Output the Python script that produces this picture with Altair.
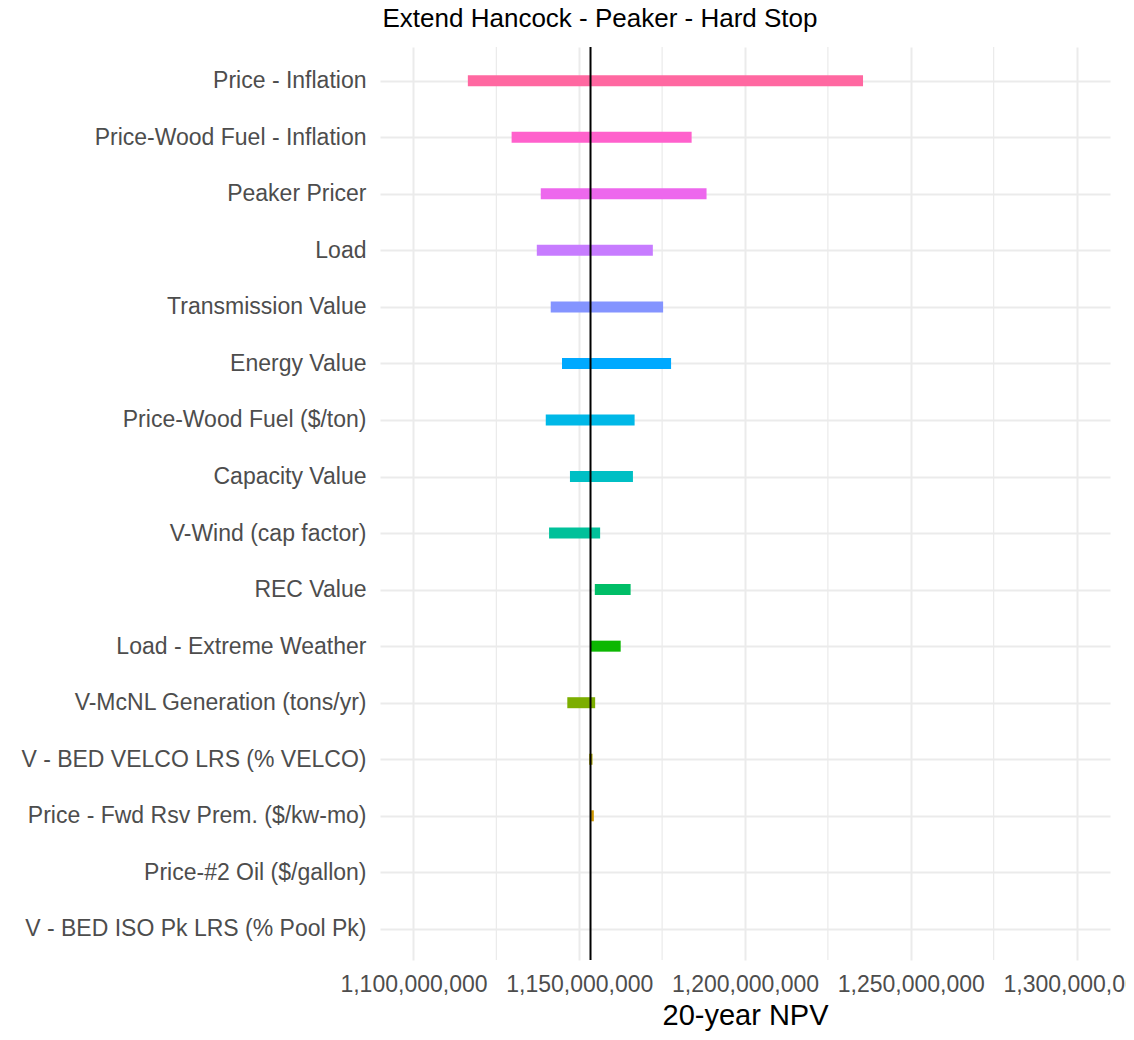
import altair as alt
import pandas as pd

factors = [
    "Price - Inflation",
    "Price-Wood Fuel - Inflation",
    "Peaker Pricer",
    "Load",
    "Transmission Value",
    "Energy Value",
    "Price-Wood Fuel ($/ton)",
    "Capacity Value",
    "V-Wind (cap factor)",
    "REC Value",
    "Load - Extreme Weather",
    "V-McNL Generation (tons/yr)",
    "V - BED VELCO LRS (% VELCO)",
    "Price - Fwd Rsv Prem. ($/kw-mo)",
    "Price-#2 Oil ($/gallon)",
    "V - BED ISO Pk LRS (% Pool Pk)",
]
low_m = [1116.4, 1129.6, 1138.4, 1137.2, 1141.4, 1144.8, 1139.9, 1147.2,
         1140.9, 1154.7, 1153.4, 1146.4, 1153.0, 1153.6, 1153.4, 1153.4]
high_m = [1235.6, 1183.9, 1188.4, 1172.2, 1175.3, 1177.7, 1166.7, 1166.2,
          1156.3, 1165.5, 1162.5, 1154.8, 1154.0, 1154.4, 1153.4, 1153.4]
colors = ["#FF68A1", "#FF61CC", "#ED68ED", "#C77CFF", "#8494FF", "#00A9FF",
          "#00B8E7", "#00BFC4", "#00C19A", "#00BE67", "#0CB702", "#7CAE00",
          "#ABA300", "#CD9600", "#E68613", "#F8766D"]
base_npv = 1153.4e6
major_ticks = [1.10e9, 1.15e9, 1.20e9, 1.25e9, 1.30e9]
minor_ticks = [1.125e9, 1.175e9, 1.225e9, 1.275e9]

df = pd.DataFrame({
    "factor": factors,
    "low": [v * 1e6 for v in low_m],
    "high": [v * 1e6 for v in high_m],
})

FONT = "Liberation Sans"
xscale = alt.Scale(domain=[1089.9e6, 1310.1e6], nice=False, zero=False)
xaxis = alt.Axis(values=major_ticks, format=",d", title="20-year NPV",
                 grid=True, gridColor="#EBEBEB", gridWidth=2,
                 domain=False, ticks=False, labelFontSize=23,
                 labelColor="#4D4D4D", labelFont=FONT, labelPadding=13,
                 titleFontSize=29, titleColor="black", titleFont=FONT,
                 titleFontWeight="normal", titlePadding=5)

minor = alt.Chart(pd.DataFrame({"v": minor_ticks})).mark_rule(
    color="#EBEBEB", strokeWidth=1.2
).encode(x=alt.X("v:Q", scale=xscale, axis=xaxis))

bars = alt.Chart(df).mark_rule(strokeWidth=11, strokeCap="butt").encode(
    y=alt.Y("factor:N", sort=factors,
            scale=alt.Scale(type="point", padding=0.573, align=0.52),
            axis=alt.Axis(title=None, grid=True, gridColor="#EBEBEB",
                          gridWidth=2, domain=False, ticks=False,
                          labelFontSize=23, labelColor="#4D4D4D",
                          labelFont=FONT, labelPadding=14, labelLimit=400)),
    x=alt.X("low:Q", scale=xscale, axis=xaxis),
    x2="high:Q",
    color=alt.Color("factor:N", scale=alt.Scale(domain=factors, range=colors),
                    legend=None),
)

ref = alt.Chart(pd.DataFrame({"base": [base_npv]})).mark_rule(
    color="black", strokeWidth=2
).encode(x=alt.X("base:Q", scale=xscale, axis=xaxis))

chart = alt.layer(minor, bars, ref).properties(
    width=730, height=913,
    title=alt.TitleParams("Extend Hancock - Peaker - Hard Stop", fontSize=26,
                          fontWeight="normal", font=FONT, color="black",
                          anchor="middle", frame="group", dx=-145, offset=14),
    autosize=alt.AutoSizeParams(type="none"),
    padding={"left": 372, "top": 39, "right": 16, "bottom": 72},
).configure_view(stroke=None)

chart.save("out.html", embed_options={"renderer": "svg", "actions": False})
